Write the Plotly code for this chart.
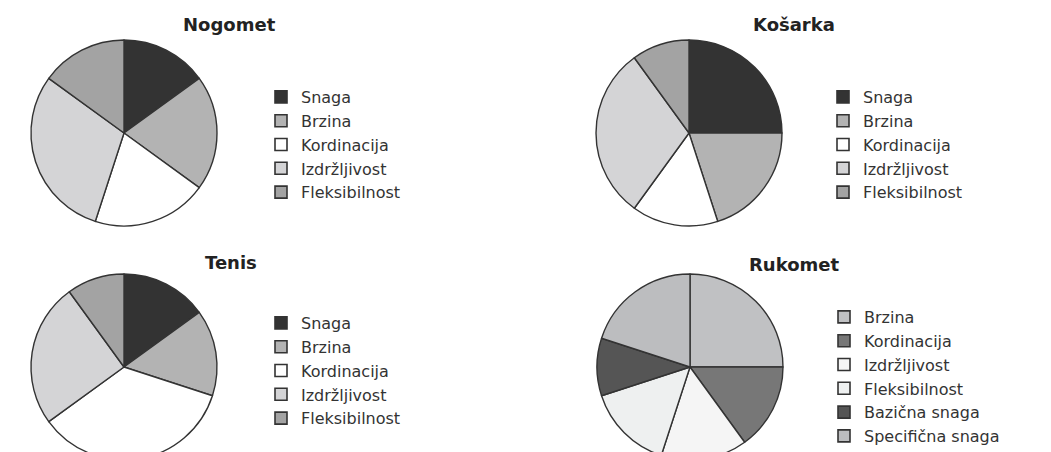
import plotly.graph_objects as go

W, H = 1051, 452
OFF = 8  # page body margin: screen position = figure position + 8

# ---- data ----
labels_std = ["Snaga", "Brzina", "Kordinacija", "Izdržljivost", "Fleksibilnost"]
nogomet = [15, 20, 20, 30, 15]
kosarka = [25, 20, 15, 30, 10]
tenis = [15, 15, 35, 25, 10]
labels_ruk = ["Brzina", "Kordinacija", "Izdržljivost", "Fleksibilnost",
              "Bazična snaga", "Specifična snaga"]
rukomet = [25, 15, 15, 15, 10, 20]

colors_std = ["#333333", "#b3b3b3", "#ffffff", "#d4d4d6", "#a3a3a3"]
colors_ruk = ["#c0c1c3", "#777777", "#f5f5f5", "#eef0f0", "#555555", "#bcbdbf"]

FONT = "DejaVu Sans"
R = 93
EDGE = "#333333"


def dom(cx, cy, r=R):
    cx -= OFF
    cy -= OFF
    return dict(x=[(cx - r) / W, (cx + r) / W],
                y=[max(0, 1 - (cy + r) / H), 1 - (cy - r) / H])


panels = [
    ("Nogomet", labels_std, nogomet, colors_std, (124, 133), "legend"),
    ("Košarka", labels_std, kosarka, colors_std, (689, 133), "legend2"),
    ("Tenis", labels_std, tenis, colors_std, (124, 367), "legend3"),
    ("Rukomet", labels_ruk, rukomet, colors_ruk, (690, 367), "legend4"),
]

fig = go.Figure()
for name, labs, vals, cols, (cx, cy), leg in panels:
    fig.add_trace(go.Pie(
        name=name, labels=labs, values=vals, sort=False,
        direction="clockwise", rotation=0,
        marker=dict(colors=cols, line=dict(color=EDGE, width=1.4)),
        textinfo="none", domain=dom(cx, cy), showlegend=False,
        hovertemplate="%{label}: %{value}%<extra>" + name + "</extra>",
    ))
    # legend entries for this panel (one per slice label)
    for lab, col in zip(labs, cols):
        fig.add_trace(go.Scatter(
            x=[None], y=[None], mode="markers", name=lab, legend=leg,
            marker=dict(symbol="square", size=12, color=col,
                        line=dict(color=EDGE, width=1.6)),
            hoverinfo="skip",
        ))

legend_common = dict(
    font=dict(family=FONT, size=16, color="#333333"),
    bgcolor="rgba(0,0,0,0)", xanchor="left", yanchor="top",
    itemwidth=30, traceorder="normal",
)

fig.update_layout(
    width=W, height=H,
    margin=dict(l=0, r=0, t=0, b=0),
    paper_bgcolor="white", plot_bgcolor="rgba(0,0,0,0)",
    xaxis=dict(visible=False), yaxis=dict(visible=False),
    legend=dict(x=253 / W, y=1 - 72 / H, **legend_common),
    legend2=dict(x=815 / W, y=1 - 72 / H, **legend_common),
    legend3=dict(x=253 / W, y=1 - 298 / H, **legend_common),
    legend4=dict(x=816 / W, y=1 - 292 / H, **legend_common),
)

titles = [("Nogomet", 221, 16), ("Košarka", 786, 16),
          ("Tenis", 223, 254), ("Rukomet", 786, 256)]
for t, x, y in titles:
    fig.add_annotation(text="<b>" + t + "</b>", x=x / W, y=1 - y / H,
                       xref="paper", yref="paper", showarrow=False,
                       xanchor="center", yanchor="middle",
                       font=dict(family=FONT, size=18, color="#222222"))

fig.write_html("out.html")
